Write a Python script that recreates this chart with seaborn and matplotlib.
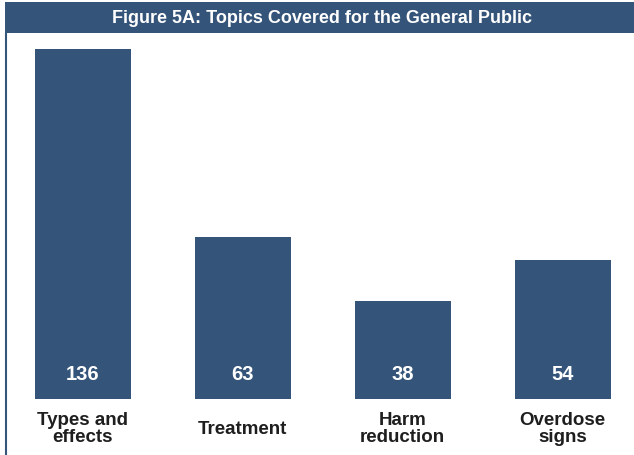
import matplotlib
matplotlib.use("Agg")
import matplotlib.pyplot as plt
from matplotlib.patches import Rectangle
from matplotlib.lines import Line2D
import seaborn as sns
import pandas as pd

categories = ["Types and\neffects", "Treatment", "Harm\nreduction", "Overdose\nsigns"]
values = [136, 63, 38, 54]
value_labels = ["136", "63", "38", "54"]
title = "Figure 5A: Topics Covered for the General Public"

BLUE = "#345579"
W, H = 634, 456

sns.set_theme(style="white")
plt.rcParams["font.family"] = ["Liberation Sans", "DejaVu Sans"]

fig = plt.figure(figsize=(W / 100, H / 100), dpi=100)
fig.patch.set_facecolor("white")

# axes: x pixel 6..634, y pixel 34..400 (from top)
ax = fig.add_axes([6 / W, (H - 400) / H, (W - 6) / W, (400 - 34) / H])
df = pd.DataFrame({"cat": categories, "val": values})
sns.barplot(data=df, x="cat", y="val", color=BLUE, saturation=1, width=0.6,
            linewidth=0, ax=ax)

# x: first category center near px 82.5, spacing 160
ax.set_xlim((6 - 82.5) / 160, (634 - 82.5) / 160)
ax.set_ylim(0, (400 - 34) / ((400 - 50) / 136))
ax.set_xlabel("")
ax.set_ylabel("")
ax.set_yticks([])
for s in ax.spines.values():
    s.set_visible(False)
ax.tick_params(axis="x", length=0, pad=20.9)
ax.set_xticks(range(len(categories)))
ax.set_xticklabels(categories, fontsize=13.5, fontweight="bold", color="#1e1e1e",
                   linespacing=1.05)
for lab in ax.get_xticklabels():
    lab.set_va("center")
    lab.set_multialignment("center")

for i, t in enumerate(value_labels):
    ax.annotate(t, xy=(i, 0), xytext=(0, 18), textcoords="offset points",
                ha="center", va="center", color="white", fontsize=14.5,
                fontweight="bold")

# title bar
fig.patches.append(Rectangle((5 / W, (H - 34) / H), 1 - 5 / W, 31 / H,
                             transform=fig.transFigure, facecolor=BLUE,
                             edgecolor="none", zorder=0))
fig.lines.append(Line2D([5.5 / W, 5.5 / W], [0, (H - 34) / H],
                        transform=fig.transFigure, color=BLUE, linewidth=1.5))
fig.text(322 / W, (H - 18.5) / H, title, ha="center", va="center",
         color="white", fontsize=13, fontweight="bold",
         family=["Liberation Sans", "DejaVu Sans"])

fig.savefig("out.png", dpi=100, facecolor="white")
